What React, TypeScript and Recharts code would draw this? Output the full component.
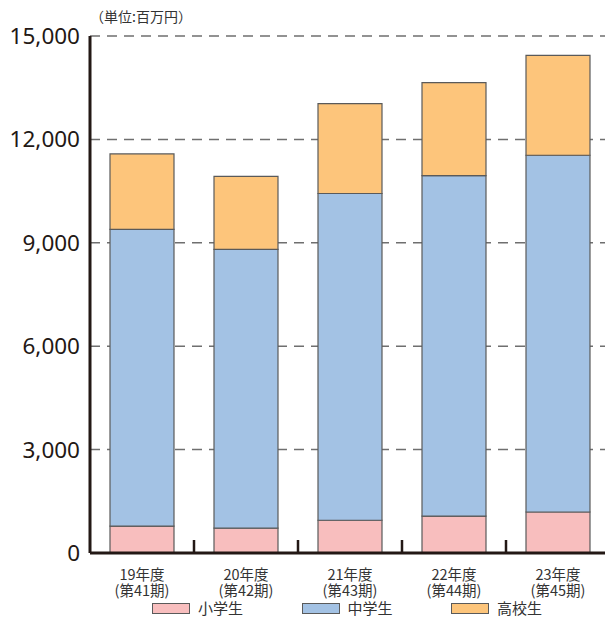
import React from 'react';
import { BarChart, Bar, XAxis, YAxis, CartesianGrid } from 'recharts';

const years = ['19年度', '20年度', '21年度', '22年度', '23年度'];
const periods = ['(第41期)', '(第42期)', '(第43期)', '(第44期)', '(第45期)'];
const elementary = [780, 720, 950, 1070, 1190];
const juniorHigh = [8610, 8090, 9480, 9880, 10350];
const highSchool = [2190, 2120, 2610, 2700, 2900];
const yTicks = [0, 3000, 6000, 9000, 12000, 15000];

const seriesNames = ['小学生', '中学生', '高校生'];
const colors = ['#F8BEBE', '#A3C2E4', '#FDC57B'];

const data = years.map((y, i) => ({
  year: y,
  period: periods[i],
  e: elementary[i],
  j: juniorHigh[i],
  h: highSchool[i],
}));

const ink = '#231815';
const cjk = '"Noto Sans CJK JP", "Noto Sans", sans-serif';

const XTick = (props: any) => {
  const { x, y, payload, index, width, visibleTicksCount } = props;
  const half = width && visibleTicksCount ? width / visibleTicksCount / 2 : 52;
  const d = data[index] || data[0];
  return (
    <g>
      <line x1={x + half} x2={x + half} y1={y} y2={y - 13} stroke={ink} strokeWidth={2.5} />
      <text x={x} y={y + 27} textAnchor="middle" fontSize={14.5} fill="#333" fontFamily={cjk}>
        {payload.value}
      </text>
      <text x={x} y={y + 42.5} textAnchor="middle" fontSize={14.5} fill="#333" fontFamily={cjk}>
        {d.period}
      </text>
    </g>
  );
};

const fmt = (v: number) => v.toLocaleString('en-US');

export default function App() {
  return (
    <div style={{ position: 'absolute', left: 0, top: 0, width: 605, height: 617, overflow: 'hidden', background: '#fff' }}>
      <div style={{ position: 'absolute', left: 90, top: 8, fontSize: 14, lineHeight: '16px', color: '#333', fontFamily: cjk }}>
        （単位:百万円）
      </div>
      <BarChart
        width={620}
        height={617}
        data={data}
        margin={{ top: 36, right: 10, left: 0, bottom: 0 }}
        barSize={64}
      >
        <CartesianGrid vertical={false} stroke="#6f6f6f" strokeWidth={1.5} strokeDasharray="10 7" />
        <XAxis
          dataKey="year"
          height={64}
          tickLine={false}
          tickSize={0}
          tickMargin={0}
          axisLine={{ stroke: ink, strokeWidth: 3 }}
          tick={<XTick />}
          interval={0}
        />
        <YAxis
          width={90}
          domain={[0, 15000]}
          ticks={yTicks}
          tickFormatter={fmt}
          tickLine={false}
          tickSize={0}
          tickMargin={10}
          axisLine={{ stroke: ink, strokeWidth: 3 }}
          tick={{ fontSize: 22.5, fill: ink, fontFamily: '"Noto Sans", sans-serif' }}
        />
        <Bar dataKey="e" stackId="a" fill={colors[0]} stroke="#5a5a5a" strokeWidth={1.2} isAnimationActive={false} />
        <Bar dataKey="j" stackId="a" fill={colors[1]} stroke="#5a5a5a" strokeWidth={1.2} isAnimationActive={false} />
        <Bar dataKey="h" stackId="a" fill={colors[2]} stroke="#5a5a5a" strokeWidth={1.2} isAnimationActive={false} />
      </BarChart>
      <div style={{ position: 'absolute', left: 0, top: 600, width: 605, height: 16 }}>
        {seriesNames.map((name, i) => (
          <div
            key={name}
            style={{ position: 'absolute', left: 152 + i * 149.5, top: 0, height: 16, display: 'flex', alignItems: 'center', fontFamily: cjk, fontSize: 15, lineHeight: '16px', color: '#333' }}
          >
            <span style={{ display: 'inline-block', width: 36, height: 9, background: colors[i], border: '1px solid #5a5a5a', marginRight: 8 }} />
            <span>{name}</span>
          </div>
        ))}
      </div>
    </div>
  );
}
